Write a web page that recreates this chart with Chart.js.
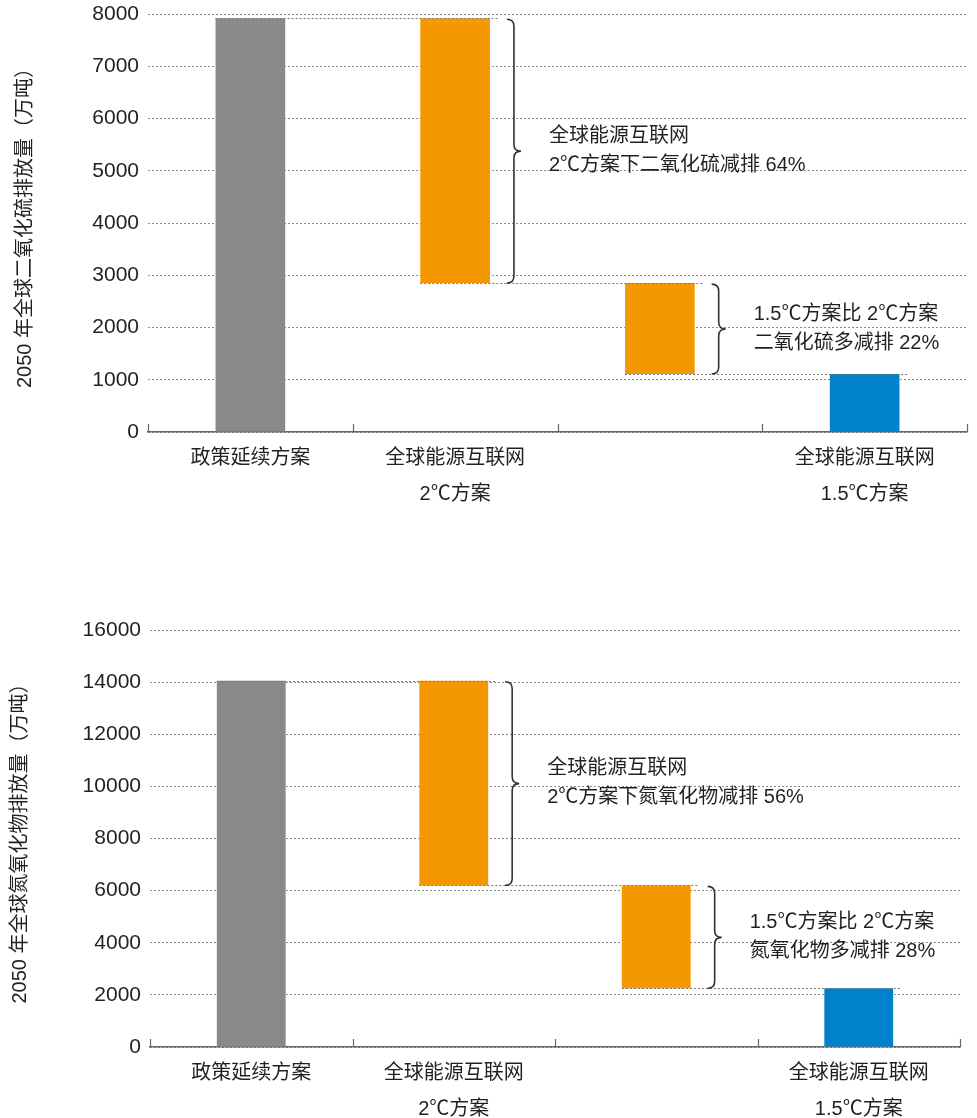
<!DOCTYPE html>
<html>
<head>
<meta charset="utf-8">
<script src="https://cdn.jsdelivr.net/npm/chart.js@4.4.0/dist/chart.umd.min.js"></script>
<style>
  body { margin: 0; background: #fff; }
  .box { position: absolute; left: 0; width: 977px; }
  #so2Box { top: 0; height: 520px; }
  #noxBox { top: 600px; height: 518px; }
</style>
</head>
<body>
<div class="box" id="so2Box"><canvas id="so2"></canvas></div>
<div class="box" id="noxBox"><canvas id="nox"></canvas></div>
<script>
const categories = [['政策延续方案'], ['全球能源互联网', '2℃方案'], [''], ['全球能源互联网', '1.5℃方案']];

// emission level for: policy scenario, 2℃ scenario, 1.5℃ scenario
const so2Levels = [7920, 2850, 1110];
const noxLevels = [14050, 6200, 2250];

const so2Notes = [['全球能源互联网', '2℃方案下二氧化硫减排 64%'], ['1.5℃方案比 2℃方案', '二氧化硫多减排 22%']];
const noxNotes = [['全球能源互联网', '2℃方案下氮氧化物减排 56%'], ['1.5℃方案比 2℃方案', '氮氧化物多减排 28%']];

const barColors = ['#898989', '#f39800', '#f39800', '#0081cc'];
const textColor = '#231f20';
const fontFamily = '"Liberation Sans", "Noto Sans CJK SC", sans-serif';

function brace(ctx, x, y0, y1) {
    const r = 7;
    const mid = (y0 + y1) / 2;
    ctx.beginPath();
    ctx.moveTo(x - r, y0);
    ctx.quadraticCurveTo(x, y0, x, y0 + r);
    ctx.lineTo(x, mid - r);
    ctx.quadraticCurveTo(x, mid, x + r, mid);
    ctx.quadraticCurveTo(x, mid, x, mid + r);
    ctx.lineTo(x, y1 - r);
    ctx.quadraticCurveTo(x, y1, x - r, y1);
    ctx.stroke();
}

// connectors, braces, notes and small axis ticks
const stepPlugin = {
    id: 'steps',
    afterDatasetsDraw(chart, args, opts) {
        const ctx = chart.ctx;
        const bars = chart.getDatasetMeta(0).data;
        const ys = chart.scales.y;
        const xs = chart.scales.x;
        const levels = opts.levels;
        ctx.save();

        ctx.strokeStyle = '#777';
        ctx.lineWidth = 1;
        ctx.setLineDash([2, 2]);
        for (let k = 0; k < levels.length; k++) {
            const yy = Math.round(ys.getPixelForValue(levels[k])) + 0.5;
            const x0 = bars[k].x - bars[k].width / 2;
            const x1 = bars[k + 1].x + bars[k + 1].width / 2 + 8;
            ctx.beginPath();
            ctx.moveTo(x0, yy);
            ctx.lineTo(x1, yy);
            ctx.stroke();
        }
        ctx.setLineDash([]);

        ctx.strokeStyle = '#333';
        ctx.lineWidth = 1.6;
        ctx.fillStyle = textColor;
        ctx.font = '20px ' + fontFamily;
        ctx.textBaseline = 'middle';
        ctx.textAlign = 'left';
        for (let k = 0; k < 2; k++) {
            const b = bars[k + 1];
            const bx = b.x + b.width / 2 + 24;
            const y0 = ys.getPixelForValue(levels[k]) + 1;
            const y1 = ys.getPixelForValue(levels[k + 1]);
            brace(ctx, bx, y0, y1);
            const mid = (y0 + y1) / 2;
            ctx.fillText(opts.notes[k][0], bx + 35, mid - 15);
            ctx.fillText(opts.notes[k][1], bx + 35, mid + 14);
        }

        ctx.strokeStyle = '#666';
        ctx.lineWidth = 1.2;
        const n = chart.data.labels.length;
        for (let i = 0; i <= n; i++) {
            const x = Math.round(xs.left + i * xs.width / n) + 0.5;
            ctx.beginPath();
            ctx.moveTo(x, xs.top - 8);
            ctx.lineTo(x, xs.top);
            ctx.stroke();
        }
        ctx.restore();
    }
};

function makeChart(id, levels, notes, cfg) {
    const floating = [
        [0, levels[0]],
        [levels[1], levels[0]],
        [levels[2], levels[1]],
        [0, levels[2]]
    ];
    return new Chart(document.getElementById(id), {
        type: 'bar',
        data: {
            labels: categories,
            datasets: [{
                data: floating,
                backgroundColor: barColors,
                borderWidth: 0,
                categoryPercentage: 1,
                barPercentage: 0.34
            }]
        },
        plugins: [stepPlugin],
        options: {
            responsive: true,
            maintainAspectRatio: false,
            animation: false,
            layout: { padding: { top: cfg.padTop, right: cfg.padRight, left: 0, bottom: 0 } },
            plugins: {
                legend: { display: false },
                tooltip: { enabled: false },
                steps: { levels: levels, notes: notes }
            },
            scales: {
                x: {
                    offset: true,
                    grid: { display: false, drawTicks: false },
                    border: { display: true, color: '#666', width: 1.5 },
                    ticks: {
                        color: textColor,
                        padding: 8,
                        font: { size: 20, family: fontFamily, lineHeight: 1.8 }
                    },
                    afterFit(scale) { scale.height = cfg.xHeight; }
                },
                y: {
                    min: 0,
                    max: cfg.max,
                    grid: { color: '#8a8a8a', lineWidth: 1, drawTicks: false },
                    border: { display: false, dash: [2, 2] },
                    ticks: {
                        stepSize: cfg.step,
                        color: textColor,
                        padding: 9,
                        font: { size: 21, family: fontFamily, lineHeight: 1 },
                        callback: (v) => String(v)
                    },
                    title: {
                        display: true,
                        text: cfg.title,
                        color: textColor,
                        padding: { top: cfg.titlePad, bottom: 0 },
                        font: { size: 20, family: fontFamily }
                    },
                    afterFit(scale) {
                        scale.width = cfg.yWidth;
                        scale.paddingTop = 0;
                        scale.paddingBottom = 0;
                    }
                }
            }
        }
    });
}

let so2Chart = makeChart('so2', so2Levels, so2Notes, {
    max: 8000, step: 1000, title: '2050 年全球二氧化硫排放量（万吨）',
    padTop: 14, padRight: 10, xHeight: 88, yWidth: 148, titlePad: 13
});

let noxChart = makeChart('nox', noxLevels, noxNotes, {
    max: 16000, step: 2000, title: '2050 年全球氮氧化物排放量（万吨）',
    padTop: 30, padRight: 17, xHeight: 71, yWidth: 150, titlePad: 8
});
</script>
</body>
</html>
